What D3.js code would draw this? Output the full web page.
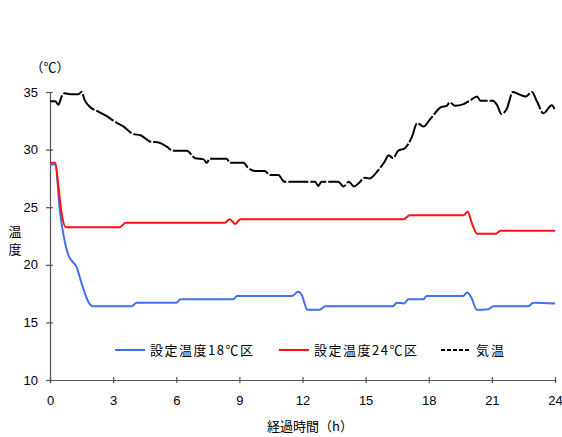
<!DOCTYPE html>
<html>
<head>
<meta charset="utf-8">
<script src="https://cdn.jsdelivr.net/npm/d3@7"></script>
<style>
  body { margin: 0; background: #fff; }
  svg { display: block; }
  text { font-family: "Liberation Sans", Arial, sans-serif; fill: #000; }
  .jp { font-family: "Noto Sans CJK JP", sans-serif; }
</style>
</head>
<body>
<svg id="chart" width="562" height="437"></svg>
<script>
// hours elapsed and temperatures (°C)
var airHours = [0, 0.25, 0.4, 0.55, 0.7, 1.0, 1.35, 1.5, 1.65, 1.9, 2.3, 2.7, 3.1, 3.5, 3.95,
  4.3, 4.75, 5.2, 5.55, 5.85, 6.5, 6.9, 7.3, 7.45, 7.6, 8.4, 8.55, 9.2, 9.4, 9.75,
  10.2, 10.45, 10.85, 11.15, 12.6, 12.75, 12.9, 13.7, 13.95, 14.2, 14.45, 14.65, 14.95, 15.2, 15.55,
  15.9, 16.1, 16.3, 16.55, 16.85, 17.2, 17.45, 17.75, 18.05, 18.6, 18.85, 19.0, 19.25, 19.65, 19.95,
  20.3, 20.45, 21.05, 21.25, 21.45, 21.7, 22.0, 22.35, 22.6, 22.9, 23.15, 23.45, 23.85, 24];
var airTemp = [34.2, 34.2, 33.9, 34.6, 34.9, 34.8, 34.8, 35.0, 34.3, 33.7, 33.3, 32.9, 32.4, 32.0, 31.35,
  31.25, 30.7, 30.6, 30.25, 29.9, 29.9, 29.25, 29.15, 28.85, 29.2, 29.2, 28.85, 28.85, 28.45, 28.15,
  28.15, 27.8, 27.8, 27.2, 27.2, 26.85, 27.2, 27.2, 26.8, 27.2, 26.8, 27.05, 27.55, 27.5, 28.1,
  28.95, 29.5, 29.25, 29.9, 30.1, 31.1, 32.3, 32.0, 32.6, 33.7, 33.8, 34.1, 33.8, 33.95, 34.25,
  34.6, 34.25, 34.25, 33.85, 33.1, 33.5, 35.0, 34.75, 34.6, 35.0, 34.15, 33.15, 33.85, 33.4];

var set24Hours = [0, 0.25, 0.4, 0.55, 0.75, 3.3, 3.6, 8.3, 8.55, 8.8, 9.05, 16.8, 17.1, 19.65, 19.85,
  20.05, 20.3, 21.2, 21.4, 24];
var set24Temp = [28.85, 28.85, 26.8, 24.5, 23.25, 23.25, 23.65, 23.65, 23.95, 23.55, 23.95, 23.95, 24.3, 24.3, 24.6,
  23.6, 22.7, 22.7, 22.95, 22.95];

var set18Hours = [0, 0.25, 0.48, 0.63, 0.87, 1.1, 1.24, 1.5, 1.82, 2.03, 3.88, 4.12, 6.0, 6.2, 8.7,
  8.9, 11.5, 11.8, 11.96, 12.23, 12.83, 13.07, 16.3, 16.48, 16.83, 17.03, 17.74, 17.9, 19.64, 19.83,
  20.04, 20.28, 20.83, 21.07, 22.73, 22.97, 24];
var set18Temp = [28.7, 28.7, 24.5, 22.7, 20.85, 20.2, 19.9, 18.4, 16.8, 16.4, 16.4, 16.7, 16.7, 17.0, 17.0,
  17.3, 17.3, 17.65, 17.4, 16.1, 16.1, 16.4, 16.4, 16.7, 16.65, 17.0, 17.0, 17.3, 17.3, 17.6,
  17.1, 16.1, 16.15, 16.4, 16.4, 16.7, 16.65];

var xTicks = [0, 3, 6, 9, 12, 15, 18, 21, 24];
var yTicks = [10, 15, 20, 25, 30, 35];

var series = [
  { name: "設定温度18℃区", hours: set18Hours, temps: set18Temp, color: "#3f6ff2", dash: null, w: 103 },
  { name: "設定温度24℃区", hours: set24Hours, temps: set24Temp, color: "#ff1010", dash: null, w: 103 },
  { name: "気温", hours: airHours, temps: airTemp, color: "#000", dash: "20,2", w: 28 }
];

var svg = d3.select("#chart");

var x = d3.scaleLinear().domain([0, 24]).range([50, 555]);
var y = d3.scaleLinear().domain([10, 35]).range([380, 92]);

// axes
var xAxis = svg.append("g")
  .attr("transform", "translate(0," + y(10) + ")")
  .call(d3.axisBottom(x).tickValues(xTicks).tickSize(3).tickPadding(13));
var yAxis = svg.append("g")
  .attr("transform", "translate(" + x(0) + ",0)")
  .call(d3.axisLeft(y).tickValues(yTicks).tickSize(4).tickPadding(8));

[xAxis, yAxis].forEach(function(a) {
  a.select(".domain").attr("stroke", "#555").attr("stroke-width", 1.2);
  a.selectAll(".tick line").attr("stroke", "#555").attr("stroke-width", 1.2);
  a.selectAll(".tick text").style("font-size", "13px").attr("fill", "#111");
});
xAxis.selectAll(".tick line").attr("y1", -3).attr("y2", 3);
yAxis.selectAll(".tick line").attr("x1", -4).attr("x2", 3);

// lines
var line = d3.line()
  .x(function(d) { return x(d[0]); })
  .y(function(d) { return y(d[1]); })
  .curve(d3.curveMonotoneX);

series.forEach(function(s) {
  var pts = s.hours.map(function(h, i) { return [h, s.temps[i]]; });
  svg.append("path")
    .datum(pts)
    .attr("d", line)
    .attr("fill", "none")
    .attr("stroke", s.color)
    .attr("stroke-width", 2)
    .attr("stroke-dasharray", s.dash);
});

// titles
svg.append("text").attr("class", "jp")
  .attr("x", 50).attr("y", 72)
  .attr("text-anchor", "middle")
  .style("font-size", "13px")
  .text("（℃）");

svg.append("text").attr("class", "jp")
  .attr("x", 15).attr("y", 236)
  .attr("text-anchor", "middle")
  .style("font-size", "13px")
  .text("温");
svg.append("text").attr("class", "jp")
  .attr("x", 15).attr("y", 254)
  .attr("text-anchor", "middle")
  .style("font-size", "13px")
  .text("度");

svg.append("text").attr("class", "jp")
  .attr("x", 310).attr("y", 431)
  .attr("text-anchor", "middle")
  .style("font-size", "13px")
  .text("経過時間（h）");

// legend
var legendX = [115, 279, 441];
var legend = svg.append("g");
series.forEach(function(s, i) {
  var g = legend.append("g").attr("transform", "translate(" + legendX[i] + ",350)");
  g.append("line")
    .attr("x1", 0).attr("x2", 30)
    .attr("stroke", s.color)
    .attr("stroke-width", 2)
    .attr("stroke-dasharray", s.dash ? "4,2" : null);
  g.append("text").attr("class", "jp")
    .attr("x", 35).attr("y", 5)
    .attr("textLength", s.w)
    .attr("lengthAdjust", "spacing")
    .style("font-size", "13px")
    .text(s.name);
});
</script>
</body>
</html>
